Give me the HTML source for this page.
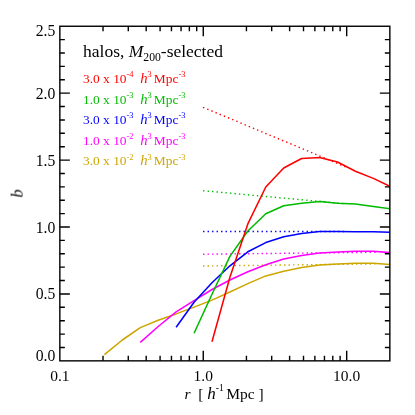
<!DOCTYPE html><html><head><meta charset="utf-8"><style>html,body{margin:0;padding:0;background:#fff;width:415px;height:415px;overflow:hidden}</style></head><body><svg width="415" height="415" viewBox="0 0 415 415" style="position:absolute;left:0;top:0">
<rect width="415" height="415" fill="#fff"/>
<defs><clipPath id="c"><rect x="59.85" y="26.25" width="330.0" height="334.6"/></clipPath></defs>
<g fill="none" stroke-width="1.4" stroke-dasharray="1.4 3.1">
<path d="M203.06 107.30L346.68 167.25" stroke="#ff0000"/>
<path d="M203.06 190.70L346.68 203.90" stroke="#00bb00"/>
<path d="M203.06 231.50L346.68 231.50" stroke="#0000ff"/>
<path d="M203.06 254.20L375.95 252.30" stroke="#ff00ff"/>
<path d="M203.06 266.00L375.95 263.90" stroke="#cca600"/>
</g>
<g fill="none" stroke-width="1.55" stroke-linejoin="round" clip-path="url(#c)">
<path d="M104.40 354.70 L122.33 340.00 L140.26 327.60 L158.19 320.20 L176.12 313.90 L194.05 307.10 L211.98 300.10 L229.91 292.00 L247.84 283.60 L265.77 275.90 L283.70 271.20 L301.63 267.50 L319.56 265.00 L337.49 264.00 L355.42 263.30 L373.35 263.30 L391.28 264.50" stroke="#cca600"/>
<path d="M140.26 342.40 L158.19 326.50 L176.12 311.80 L194.05 300.70 L211.98 289.50 L229.91 280.00 L247.84 271.70 L265.77 264.70 L283.70 259.00 L301.63 255.60 L319.56 252.90 L337.49 252.00 L355.42 251.30 L373.35 251.30 L391.28 252.70" stroke="#ff00ff"/>
<path d="M176.12 327.20 L194.05 302.20 L211.98 282.80 L229.91 265.80 L247.84 251.80 L265.77 242.60 L283.70 236.80 L301.63 233.60 L319.56 231.40 L337.49 231.60 L355.42 231.70 L373.35 231.70 L391.28 232.30" stroke="#0000ff"/>
<path d="M194.05 333.20 L211.98 294.20 L229.91 256.40 L247.84 231.00 L265.77 213.70 L283.70 205.80 L301.63 203.20 L319.56 201.40 L337.49 203.30 L355.42 203.90 L373.35 206.50 L391.28 209.00" stroke="#00bb00"/>
<path d="M211.98 341.80 L229.91 277.20 L247.84 223.90 L265.77 187.00 L283.70 168.00 L301.63 158.50 L319.56 157.40 L337.49 162.00 L355.42 171.20 L373.35 178.40 L391.28 187.00" stroke="#ff0000"/>
</g>
<g stroke="#000" stroke-width="1.4" fill="none">
<rect x="59.85" y="26.25" width="330.0" height="334.6"/>
<path d="M103.02 360.85v-5M103.02 26.25v5M128.28 360.85v-5M128.28 26.25v5M146.19 360.85v-5M146.19 26.25v5M160.09 360.85v-5M160.09 26.25v5M171.45 360.85v-5M171.45 26.25v5M181.05 360.85v-5M181.05 26.25v5M189.37 360.85v-5M189.37 26.25v5M196.70 360.85v-5M196.70 26.25v5M203.26 360.85v-10M203.26 26.25v10M246.44 360.85v-5M246.44 26.25v5M271.69 360.85v-5M271.69 26.25v5M289.61 360.85v-5M289.61 26.25v5M303.51 360.85v-5M303.51 26.25v5M314.86 360.85v-5M314.86 26.25v5M324.46 360.85v-5M324.46 26.25v5M332.78 360.85v-5M332.78 26.25v5M340.12 360.85v-5M340.12 26.25v5M346.68 360.85v-10M346.68 26.25v10M59.85 347.47h5M389.85 347.47h-5M59.85 334.08h5M389.85 334.08h-5M59.85 320.70h5M389.85 320.70h-5M59.85 307.31h5M389.85 307.31h-5M59.85 293.93h10M389.85 293.93h-10M59.85 280.55h5M389.85 280.55h-5M59.85 267.16h5M389.85 267.16h-5M59.85 253.78h5M389.85 253.78h-5M59.85 240.39h5M389.85 240.39h-5M59.85 227.01h10M389.85 227.01h-10M59.85 213.63h5M389.85 213.63h-5M59.85 200.24h5M389.85 200.24h-5M59.85 186.86h5M389.85 186.86h-5M59.85 173.47h5M389.85 173.47h-5M59.85 160.09h10M389.85 160.09h-10M59.85 146.71h5M389.85 146.71h-5M59.85 133.32h5M389.85 133.32h-5M59.85 119.94h5M389.85 119.94h-5M59.85 106.55h5M389.85 106.55h-5M59.85 93.17h10M389.85 93.17h-10M59.85 79.79h5M389.85 79.79h-5M59.85 66.40h5M389.85 66.40h-5M59.85 53.02h5M389.85 53.02h-5M59.85 39.63h5M389.85 39.63h-5"/>
</g>
<g font-family="Liberation Serif, serif" fill="#000" opacity="0.995">
<g font-size="15.7" text-anchor="end">
<text x="55.3" y="361.05">0.0</text>
<text x="55.3" y="299.43">0.5</text>
<text x="55.3" y="232.51">1.0</text>
<text x="55.3" y="165.59">1.5</text>
<text x="55.3" y="98.67">2.0</text>
<text x="55.3" y="35.75">2.5</text>
</g>
<g font-size="15.5" text-anchor="middle">
<text x="59.85" y="381">0.1</text>
<text x="203.26" y="381">1.0</text>
<text x="346.68" y="381">10.0</text>
</g>
<text xml:space="preserve" font-size="15.5" x="184.5" y="399.3"><tspan font-style="italic">r</tspan>  [ <tspan font-style="italic" font-size="17.0">h</tspan><tspan font-size="9.6" dy="-8.2">-1 </tspan><tspan dy="8.2">Mpc ]</tspan></text>
<text font-size="16.5" font-style="italic" transform="translate(22.6,197.6) rotate(-90)">b</text>
<text xml:space="preserve" font-size="17.5" x="83" y="57">halos, <tspan font-style="italic">M</tspan><tspan font-size="11.7" dy="4">200</tspan><tspan dy="-4">-selected</tspan></text>
<text xml:space="preserve" font-size="13.4" x="83" y="83" fill="#ff0000">3.0 x 10<tspan font-size="8.4" dy="-5.7">-4</tspan><tspan dy="5.7">  </tspan><tspan font-style="italic" font-size="14.7">h</tspan><tspan font-size="8.4" dy="-5.7">3 </tspan><tspan dy="5.7">Mpc</tspan><tspan font-size="8.4" dy="-5.7">-3</tspan></text>
<text xml:space="preserve" font-size="13.4" x="83" y="103.5" fill="#00bb00">1.0 x 10<tspan font-size="8.4" dy="-5.7">-3</tspan><tspan dy="5.7">  </tspan><tspan font-style="italic" font-size="14.7">h</tspan><tspan font-size="8.4" dy="-5.7">3 </tspan><tspan dy="5.7">Mpc</tspan><tspan font-size="8.4" dy="-5.7">-3</tspan></text>
<text xml:space="preserve" font-size="13.4" x="83" y="124" fill="#0000ff">3.0 x 10<tspan font-size="8.4" dy="-5.7">-3</tspan><tspan dy="5.7">  </tspan><tspan font-style="italic" font-size="14.7">h</tspan><tspan font-size="8.4" dy="-5.7">3 </tspan><tspan dy="5.7">Mpc</tspan><tspan font-size="8.4" dy="-5.7">-3</tspan></text>
<text xml:space="preserve" font-size="13.4" x="83" y="144.7" fill="#ff00ff">1.0 x 10<tspan font-size="8.4" dy="-5.7">-2</tspan><tspan dy="5.7">  </tspan><tspan font-style="italic" font-size="14.7">h</tspan><tspan font-size="8.4" dy="-5.7">3 </tspan><tspan dy="5.7">Mpc</tspan><tspan font-size="8.4" dy="-5.7">-3</tspan></text>
<text xml:space="preserve" font-size="13.4" x="83" y="165.3" fill="#cca600">3.0 x 10<tspan font-size="8.4" dy="-5.7">-2</tspan><tspan dy="5.7">  </tspan><tspan font-style="italic" font-size="14.7">h</tspan><tspan font-size="8.4" dy="-5.7">3 </tspan><tspan dy="5.7">Mpc</tspan><tspan font-size="8.4" dy="-5.7">-3</tspan></text>
</g>
</svg></body></html>
